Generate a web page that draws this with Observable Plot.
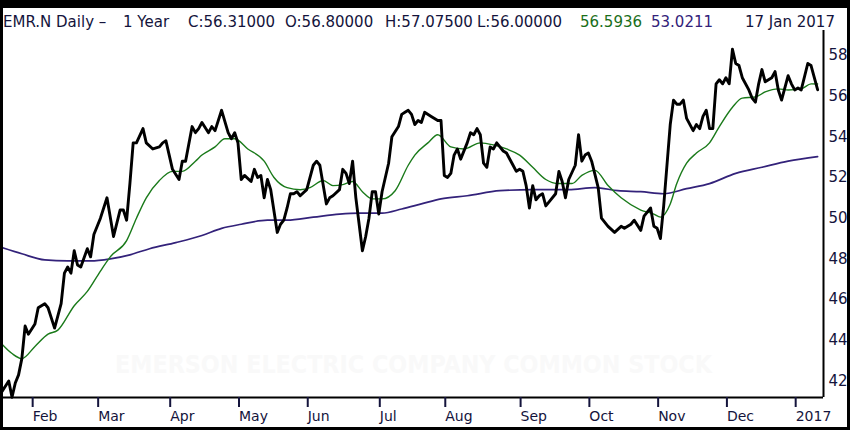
<!DOCTYPE html>
<html>
<head>
<meta charset="utf-8">
<script src="https://cdn.jsdelivr.net/npm/d3@7"></script>
<script src="https://cdn.jsdelivr.net/npm/@observablehq/plot@0.6"></script>
<style>
  body { margin: 0; background: #000; }
  #panel { position: absolute; left: 3px; top: 8px; width: 844px; height: 419px; background: #fff; overflow: hidden; font-family: "DejaVu Sans", sans-serif; }
  #header span { position: absolute; top: 5px; font-size: 15px; color: #14143c; white-space: pre; }
  #chart { position: absolute; left: 0; top: 22px; }
</style>
</head>
<body>
<div id="panel">
  <div id="header"></div>
  <div id="chart"></div>
</div>
<script>
// header pieces: text, left offset, colour
const headerText = ["EMR.N Daily \u2013", "1 Year", "C:56.31000", "O:56.80000", "H:57.07500", "L:56.00000", "56.5936", "53.0211", "17 Jan 2017"]
const headerLeft = [0, 120, 185, 282, 382, 474, 577, 648, 742]
const headerColor = ["#14143c", "#14143c", "#14143c", "#14143c", "#14143c", "#14143c", "#1a6e1a", "#33227a", "#14143c"]

const watermark = "EMERSON ELECTRIC COMPANY COMMON STOCK"

// x = trading day index since 15 Jan 2016
const monthStarts = [10, 30, 52, 73, 94, 116, 136, 159, 180, 201, 222, 243]
const monthLabels = ["Feb", "Mar", "Apr", "May", "Jun", "Jul", "Aug", "Sep", "Oct", "Nov", "Dec", "2017"]
const yTicks = [42, 44, 46, 48, 50, 52, 54, 56, 58]

// daily close [day, price]
const closeSeries = [
  [1,41.5],[3,42.0],[4,41.2],[5,41.9],[6,42.3],[7,43.1],[8,44.7],[9,44.3],[11,44.8],[12,45.6],
  [14,45.8],[15,45.6],[17,44.6],[19,45.8],[20,47.3],[21,47.6],[22,47.3],[23,48.4],[24,47.7],[25,47.6],
  [27,48.5],[28,48.1],[29,49.2],[31,50.0],[33,51.0],[35,49.1],[37,50.4],[38,50.4],[39,49.9],[40,51.7],
  [41,53.7],[42,53.7],[44,54.4],[45,53.7],[47,53.4],[49,53.5],[50,53.7],[51,53.8],[53,52.4],[55,51.9],
  [56,52.8],[57,52.8],[59,54.5],[60,54.2],[61,54.4],[62,54.7],[64,54.2],[65,54.5],[66,54.3],[68,55.3],
  [70,54.2],[71,53.9],[72,54.2],[73,53.7],[74,51.9],[75,52.1],[77,51.8],[78,52.4],[79,52.0],[80,52.1],
  [81,51.0],[82,51.9],[83,51.4],[85,49.3],[86,49.7],[87,49.9],[88,50.5],[89,51.2],[90,51.2],[91,51.3],
  [92,51.1],[94,51.4],[96,52.6],[97,52.8],[98,52.6],[100,50.7],[101,51.0],[102,51.1],[104,51.4],[105,52.4],
  [106,52.2],[107,51.7],[108,52.8],[109,51.0],[111,48.4],[112,49.1],[113,50.0],[114,51.3],[115,51.3],[116,50.2],
  [117,51.3],[119,52.7],[120,54.0],[122,54.5],[123,55.1],[124,55.2],[125,55.3],[126,55.1],[127,54.6],[128,54.8],
  [129,54.7],[130,55.2],[132,55.0],[134,54.8],[135,54.8],[136,52.1],[137,52.0],[138,52.2],[139,53.1],[140,53.4],
  [141,52.9],[143,53.7],[144,54.2],[145,54.1],[146,54.4],[147,54.1],[148,52.7],[149,52.5],[150,53.5],[151,53.4],
  [152,53.7],[154,53.3],[155,53.2],[157,52.6],[158,52.3],[159,52.4],[160,52.3],[161,51.6],[162,50.5],[163,51.6],
  [164,50.9],[165,51.1],[166,51.2],[167,50.6],[168,50.8],[170,51.2],[171,52.3],[172,51.8],[173,51.0],[174,51.9],
  [176,52.6],[177,54.1],[178,52.8],[179,53.1],[180,53.2],[181,52.8],[183,51.5],[184,50.0],[186,49.6],[188,49.3],
  [190,49.6],[191,49.5],[193,49.7],[194,49.9],[196,49.4],[197,50.1],[199,50.5],[200,49.6],[201,49.5],[202,49.0],
  [203,50.6],[205,54.6],[206,55.8],[207,55.6],[208,55.6],[209,55.8],[210,54.9],[212,54.3],[213,54.6],[214,54.4],
  [215,55.0],[216,55.3],[217,54.4],[218,54.4],[219,56.6],[220,56.8],[221,56.6],[222,56.9],[223,56.6],[224,58.3],
  [225,57.6],[226,57.5],[227,56.9],[229,56.3],[230,55.9],[231,55.7],[232,56.6],[233,57.3],[234,56.7],[236,56.9],
  [237,57.2],[238,56.3],[239,55.8],[241,57.0],[242,56.6],[243,56.3],[244,56.4],[245,56.3],[247,57.6],[248,57.5],
  [249,56.9],[250,56.31]
]

// short moving average (green)
const fastAvg = [
  [1,43.8],[4,43.35],[7,43.1],[11,43.7],[15,44.3],[18,44.5],[23,45.7],[27,46.4],[31,47.4],[34,48.1],
  [39,48.9],[42,50.0],[45,51.0],[49,51.85],[53,52.3],[56,52.3],[60,52.8],[62,53.1],[66,53.5],[69,53.9],
  [72,53.9],[76,53.4],[81,52.8],[84,52.0],[88,51.5],[92,51.4],[95,51.5],[99,51.85],[102,51.6],[105,51.65],
  [108,51.8],[111,51.3],[114,50.95],[117,50.95],[121,51.35],[125,52.6],[127,53.1],[131,53.7],[134,54.1],[138,53.5],
  [142,53.4],[147,53.7],[151,53.6],[155,53.4],[159,53.1],[163,52.5],[167,51.9],[171,51.7],[175,51.7],[178,52.1],
  [182,52.35],[186,51.6],[190,51.0],[196,50.4],[200,50.2],[202,50.05],[205,50.7],[207,51.7],[210,52.7],[213,53.2],
  [217,53.7],[220,54.5],[224,55.45],[227,55.9],[231,55.95],[234,56.2],[238,56.35],[241,56.3],[245,56.35],[248,56.6],
  [250,56.59]
]

// long moving average (purple)
const slowAvg = [
  [1,48.55],[7,48.25],[14,47.95],[21,47.9],[28,47.9],[34,48.0],[40,48.2],[46,48.5],[54,48.8],[62,49.15],
  [68,49.5],[74,49.7],[82,49.9],[88,49.9],[96,50.05],[104,50.2],[110,50.25],[117,50.25],[123,50.45],[129,50.7],
  [135,50.95],[143,51.1],[153,51.35],[163,51.4],[174,51.4],[182,51.5],[189,51.35],[196,51.3],[203,51.2],[210,51.45],
  [217,51.7],[225,52.2],[233,52.5],[241,52.8],[250,53.02]
]

const xDomain = [1.4, 251.8]
const yDomain = [41.19, 59.22]

d3.select('#header').selectAll('span')
  .data(headerText)
  .join('span')
  .style('left', (d, i) => headerLeft[i] + 'px')
  .style('color', (d, i) => headerColor[i])
  .text(d => d)

let chart = Plot.plot({
  width: 844,
  height: 397,
  marginLeft: 0,
  marginRight: 24,
  marginTop: 0,
  marginBottom: 30,
  x: { domain: xDomain, label: null },
  y: { domain: yDomain, label: null },
  style: { fontFamily: "DejaVu Sans", background: "white", overflow: "visible" },
  marks: [
    Plot.text([watermark], {
      frameAnchor: "bottom", dy: -25, fontSize: 24, fontWeight: "bold",
      fontFamily: "DejaVu Sans Condensed", fill: "#f9f9f9"
    }),
    Plot.line(slowAvg, { x: d => d[0], y: d => d[1], stroke: "#33227a", strokeWidth: 1.7, curve: "monotone-x" }),
    Plot.line(fastAvg, { x: d => d[0], y: d => d[1], stroke: "#1a7a1a", strokeWidth: 1.4, curve: "monotone-x" }),
    Plot.line(closeSeries, { x: d => d[0], y: d => d[1], stroke: "#000", strokeWidth: 2.9, strokeLinejoin: "round" }),
    Plot.ruleX([xDomain[1]], { stroke: "#000", strokeWidth: 2 }),
    Plot.ruleY([yDomain[0]], { stroke: "#000", strokeWidth: 2 }),
    Plot.axisX(monthStarts, {
      tickFormat: d => monthLabels[monthStarts.indexOf(d)],
      tickSize: 10, tickPadding: 4, textAnchor: "start", dx: 1,
      fontSize: 14, color: "#14143c", strokeWidth: 2, label: null
    }),
    Plot.axisY(yTicks, {
      anchor: "right", tickSize: 0, tickPadding: 5, textAnchor: "start",
      fontSize: 15, color: "#14143c", label: null
    })
  ]
})

d3.select(chart).selectAll('text')
  .filter(function () { return this.textContent === watermark })
  .attr('textLength', 597)
  .attr('lengthAdjust', 'spacingAndGlyphs')

d3.select('#chart').append(() => chart)
</script>
</body>
</html>
